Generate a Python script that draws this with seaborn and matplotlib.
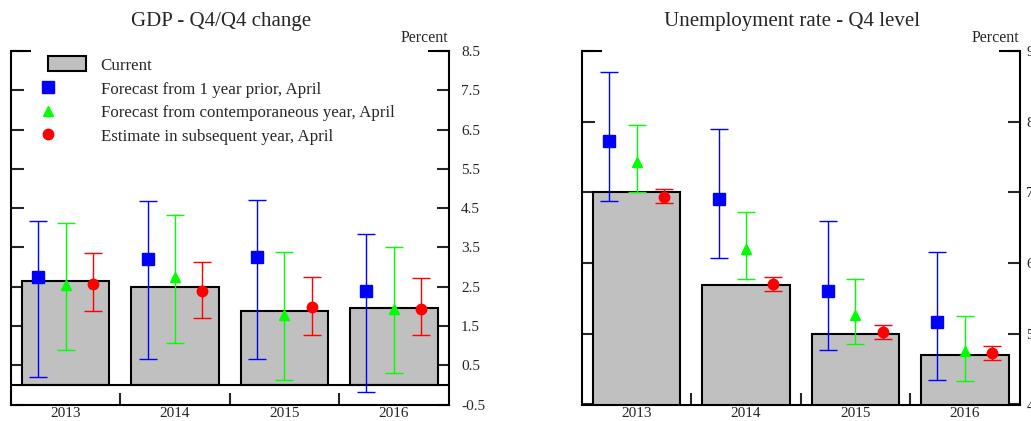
import seaborn as sns
import matplotlib.pyplot as plt
import numpy as np
from matplotlib.patches import Patch
from matplotlib.lines import Line2D
from matplotlib.legend_handler import HandlerLine2D

# categories
years = ['2013', '2014', '2015', '2016']

# GDP - Q4/Q4 change (percent)
gdp_current = [2.65, 2.5, 1.87, 1.95]
gdp_prior = [2.75, 3.2, 3.25, 2.4]
gdp_prior_lo = [0.19, 0.65, 0.67, -0.18]
gdp_prior_hi = [4.18, 4.67, 4.70, 3.84]
gdp_contemp = [2.55, 2.75, 1.79, 1.93]
gdp_contemp_lo = [0.88, 1.07, 0.12, 0.29]
gdp_contemp_hi = [4.12, 4.32, 3.37, 3.52]
gdp_subseq = [2.58, 2.38, 1.97, 1.94]
gdp_subseq_lo = [1.89, 1.69, 1.28, 1.27]
gdp_subseq_hi = [3.36, 3.14, 2.75, 2.73]

# Unemployment rate - Q4 level (percent)
unemp_current = [7.0, 5.69, 5.0, 4.70]
unemp_prior = [7.72, 6.90, 5.61, 5.17]
unemp_prior_lo = [6.88, 6.07, 4.77, 4.34]
unemp_prior_hi = [8.70, 7.89, 6.59, 6.16]
unemp_contemp = [7.43, 6.20, 5.27, 4.75]
unemp_contemp_lo = [7.01, 5.78, 4.85, 4.33]
unemp_contemp_hi = [7.95, 6.72, 5.78, 5.25]
unemp_subseq = [6.94, 5.70, 5.02, 4.73]
unemp_subseq_lo = [6.85, 5.60, 4.92, 4.63]
unemp_subseq_hi = [7.05, 5.80, 5.12, 4.83]

labels = ['Current',
          'Forecast from 1 year prior, April',
          'Forecast from contemporaneous year, April',
          'Estimate in subsequent year, April']

sns.set_style('white')
plt.rcParams['font.family'] = ['Liberation Serif', 'DejaVu Serif']

fig = plt.figure(figsize=(10.31, 4.21), dpi=100)
ax1 = fig.add_axes([11 / 1031, 16.5 / 421, 437.5 / 1031, 353.5 / 421])
ax2 = fig.add_axes([582 / 1031, 16.5 / 421, 437.5 / 1031, 353.5 / 421])

BAR = '#c0c0c0'


def draw_points(ax, vals, lo, hi, offset, marker, color, ms):
    x = np.arange(len(vals)) + offset
    v = np.array(vals)
    yerr = [v - np.array(lo), np.array(hi) - v]
    ax.errorbar(x, v, yerr=yerr, fmt=marker, color=color, ecolor=color,
                mec=color, mfc=color, elinewidth=1, capsize=6.5, capthick=1,
                markersize=ms, zorder=4)


def style_axis(ax, yticks, ylim, title, label_pad):
    ax.set_xlim(-0.5, 3.5)
    ax.set_ylim(*ylim)
    ax.set_yticks(yticks)
    ax.set_yticklabels([f'{t:g}' for t in yticks])
    ax.set_xticks([0.5, 1.5, 2.5], minor=True)
    ax.set_xlabel('')
    ax.set_ylabel('')
    ax.tick_params(axis='y', which='both', direction='in', left=True, right=True,
                   labelleft=False, labelright=True, length=9, width=1.5,
                   pad=label_pad, labelsize=11)
    ax.tick_params(axis='x', which='major', length=0, pad=2, labelsize=11)
    ax.tick_params(axis='x', which='minor', direction='in', bottom=True,
                   length=9, width=1.5)
    ax.spines['top'].set_visible(False)
    for s in ['left', 'right', 'bottom']:
        ax.spines[s].set_linewidth(1.5)
        ax.spines[s].set_color('black')
    # longer caps at the top corners
    ax.plot([0, 20 / 437], [1, 1], transform=ax.transAxes, color='black',
            lw=1.5, clip_on=False, solid_capstyle='butt')
    ax.plot([1 - 20 / 437, 1], [1, 1], transform=ax.transAxes, color='black',
            lw=1.5, clip_on=False, solid_capstyle='butt')
    ax.set_title(title, fontsize=15, x=0.48, pad=18)
    ax.text(1.0, 1.014, 'Percent', transform=ax.transAxes, ha='right',
            va='bottom', fontsize=11.5)


# GDP panel
sns.barplot(x=years, y=gdp_current, color=BAR, saturation=1, edgecolor='black',
            linewidth=1.5, width=0.8, ax=ax1, zorder=2)
ax1.axhline(0, color='black', lw=1.5, zorder=3)
draw_points(ax1, gdp_prior, gdp_prior_lo, gdp_prior_hi, -0.25, 's', 'blue', 8.3)
draw_points(ax1, gdp_contemp, gdp_contemp_lo, gdp_contemp_hi, 0.0, '^', '#00ff00', 7)
draw_points(ax1, gdp_subseq, gdp_subseq_lo, gdp_subseq_hi, 0.25, 'o', 'red', 7.5)
style_axis(ax1, np.arange(-0.5, 9, 1), (-0.5, 8.5), 'GDP - Q4/Q4 change', 9)

# Unemployment panel
sns.barplot(x=years, y=unemp_current, color=BAR, saturation=1, edgecolor='black',
            linewidth=1.5, width=0.8, ax=ax2, zorder=2)
draw_points(ax2, unemp_prior, unemp_prior_lo, unemp_prior_hi, -0.25, 's', 'blue', 8.3)
draw_points(ax2, unemp_contemp, unemp_contemp_lo, unemp_contemp_hi, 0.0, '^', '#00ff00', 7)
draw_points(ax2, unemp_subseq, unemp_subseq_lo, unemp_subseq_hi, 0.25, 'o', 'red', 7.5)
style_axis(ax2, np.arange(4, 10, 1), (4, 9), 'Unemployment rate - Q4 level', 5)


class LeftMarker(HandlerLine2D):
    # put the legend marker at the left edge of the handle box
    def get_xdata(self, legend, xdescent, ydescent, width, height, fontsize):
        x = -xdescent
        return [x, x], [x]


handles = [Patch(facecolor=BAR, edgecolor='black', linewidth=1.5),
           Line2D([], [], ls='none', marker='s', color='blue', markersize=8.3),
           Line2D([], [], ls='none', marker='^', color='#00ff00', markersize=7),
           Line2D([], [], ls='none', marker='o', color='red', markersize=7.5)]
ax1.legend(handles, labels, loc='upper left', bbox_to_anchor=(0.085, 0.985),
           frameon=False, fontsize=12.2, borderpad=0, borderaxespad=0,
           handlelength=2.25, handleheight=1.0, handletextpad=0.85,
           labelspacing=0.38, handler_map={Line2D: LeftMarker()})

plt.savefig('out.png', dpi=100)
